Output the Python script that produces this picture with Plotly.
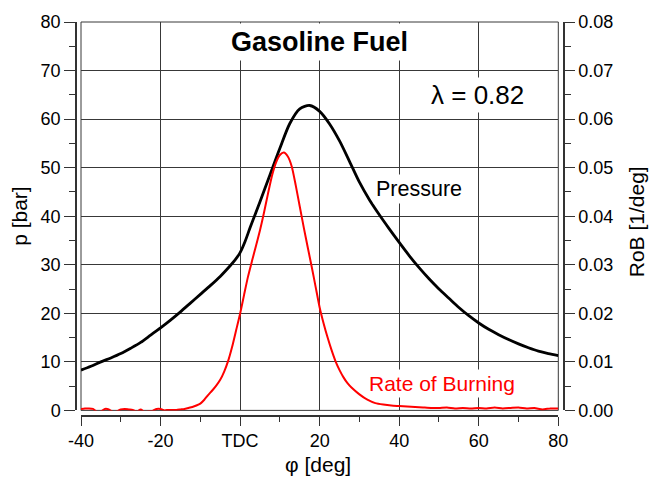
import plotly.graph_objects as go

# Crank angle [deg] and cylinder pressure [bar]
pressure_angle = [-40, -37.5, -35, -32.5, -30, -27.5, -25, -22.5, -20, -17.5, -15, -12.5,
                  -10, -7.5, -5, -2.5, -1.25, 0, 1.25, 2.5, 5, 7.5, 10, 12.5, 15, 17.5, 20,
                  22.5, 25, 27.5, 30, 32.5, 35, 37.5, 40, 42.5, 45, 47.5, 50, 52.5, 55,
                  57.5, 60, 62.5, 65, 67.5, 70, 72.5, 75, 77.5, 80]
pressure_bar = [8.3, 9.1, 10.0, 10.8, 11.7, 12.8, 14.0, 15.5, 17.0, 18.6, 20.3, 22.1,
                23.9, 25.7, 27.6, 29.8, 31.0, 32.5, 34.8, 37.6, 43.0, 48.5, 54.0, 59.1,
                62.1, 62.8, 61.6, 59.0, 55.5, 51.3, 47.0, 43.4, 40.3, 37.4, 34.6, 31.9,
                29.4, 27.1, 25.0, 23.1, 21.2, 19.5, 18.0, 16.7, 15.6, 14.6, 13.7, 12.9,
                12.2, 11.7, 11.3]

# Crank angle [deg] and rate of burning [1/deg]
rob_angle = [-40, -39, -38, -37, -36, -35, -34, -33, -32, -31, -30, -29, -28, -27, -26,
             -25, -24, -23, -22, -21, -20, -19, -18, -17, -16, -15, -14, -13, -12, -11,
             -10, -9, -8, -7, -6, -5, -4, -3, -2, -1, 0, 1, 2, 3, 4, 5, 6, 7, 8, 9, 10,
             11, 12, 13, 14, 15, 16, 17, 18, 19, 20, 21, 22, 23, 24, 25, 26, 27, 28, 30,
             32, 34, 36, 38, 40, 42, 44, 46, 48, 50, 52, 54, 56, 58, 60, 62, 64, 66, 68,
             70, 72, 74, 76, 78, 80]
rob_per_deg = [0.0003, 0.0004, 0.0004, 0.0003, -0.0003, -0.0002, 0.0003, 0.0002, -0.0003,
               -0.0002, 0.0002, 0.0003, 0.0002, 0.0001, -0.0003, 0.0002, -0.0003, -0.0002,
               -0.0001, 0.0003, 0.0003, 0.0000, 0.0001, 0.0001, 0.0001, 0.0002, 0.0003,
               0.0005, 0.0007, 0.0010, 0.0014, 0.0022, 0.0032, 0.0041, 0.0051, 0.0063,
               0.0080, 0.0102, 0.0131, 0.0165, 0.0199, 0.0238, 0.0276, 0.0308, 0.0339,
               0.0371, 0.0407, 0.0446, 0.0483, 0.0510, 0.0526, 0.0531, 0.0523, 0.0502,
               0.0463, 0.0420, 0.0377, 0.0336, 0.0296, 0.0254, 0.0212, 0.0179, 0.0150,
               0.0124, 0.0101, 0.0083, 0.0068, 0.0056, 0.0047, 0.0033, 0.0022, 0.0015,
               0.0012, 0.0010, 0.0009, 0.0008, 0.0007, 0.0006, 0.0005, 0.0005, 0.0006,
               0.0004, 0.0005, 0.0004, 0.0005, 0.0004, 0.0006, 0.0004, 0.0005, 0.0006,
               0.0004, 0.0005, 0.0002, 0.0004, 0.0004]

x_tickvals = [-40, -20, 0, 20, 40, 60, 80]
x_ticktext = ["-40", "-20", "TDC", "20", "40", "60", "80"]
p_tickvals = [0, 10, 20, 30, 40, 50, 60, 70, 80]
rob_tickvals = [0.00, 0.01, 0.02, 0.03, 0.04, 0.05, 0.06, 0.07, 0.08]

FONT = "Arial, Liberation Sans, sans-serif"
AXIS = "#333333"
GRID = "#383838"

fig = go.Figure()
fig.add_trace(go.Scatter(x=pressure_angle, y=pressure_bar, mode="lines",
                         line=dict(color="black", width=2.8, shape="spline", smoothing=0.8),
                         name="Pressure", yaxis="y"))
fig.add_trace(go.Scatter(x=rob_angle, y=rob_per_deg, mode="lines",
                         line=dict(color="#ff0000", width=2, shape="spline", smoothing=0.6),
                         name="Rate of Burning", yaxis="y2"))

xdom = [(81 - 76) / 488, (558.3 - 76) / 488]
ydom = [(415.7 - 410) / 400, 1]

fig.update_layout(
    width=649, height=480,
    margin=dict(l=76, r=85, t=15.7, b=64.3, pad=0),
    paper_bgcolor="white", plot_bgcolor="white",
    showlegend=False,
    font=dict(family=FONT, size=18, color="black"),
    xaxis=dict(
        domain=xdom, range=[-40, 80], anchor="free", position=0,
        tickmode="array", tickvals=x_tickvals, ticktext=x_ticktext,
        ticks="outside", ticklen=9, tickwidth=1.3, tickcolor=AXIS,
        showline=True, linecolor=AXIS, linewidth=1.5,
        showgrid=True, gridcolor=GRID, gridwidth=1,
        zeroline=False,
        minor=dict(tickmode="array", tickvals=[-30, -10, 10, 30, 50, 70],
                   ticks="outside", ticklen=5, tickwidth=1.3, tickcolor=AXIS, showgrid=False),
        tickfont=dict(size=18),
    ),
    yaxis=dict(
        domain=ydom, range=[0, 80], anchor="free", position=0,
        tickmode="array", tickvals=p_tickvals,
        ticks="outside", ticklen=11, tickwidth=1.3, tickcolor=AXIS,
        showline=True, linecolor=AXIS, linewidth=1.5,
        showgrid=True, gridcolor=GRID, gridwidth=1,
        zeroline=False,
        minor=dict(tickmode="array", tickvals=[5, 15, 25, 35, 45, 55, 65, 75],
                   ticks="outside", ticklen=6, tickwidth=1.3, tickcolor=AXIS, showgrid=False),
        tickfont=dict(size=18),
    ),
    yaxis2=dict(
        range=[0, 0.08], overlaying="y", side="right", anchor="free", position=1,
        tickmode="array", tickvals=rob_tickvals, tickformat=".2f",
        ticks="outside", ticklen=10, tickwidth=1.3, tickcolor=AXIS,
        showline=True, linecolor=AXIS, linewidth=1.5,
        showgrid=False, zeroline=False,
        minor=dict(tickmode="array",
                   tickvals=[0.005, 0.015, 0.025, 0.035, 0.045, 0.055, 0.065, 0.075],
                   ticks="outside", ticklen=6, tickwidth=1.3, tickcolor=AXIS, showgrid=False),
        tickfont=dict(size=18),
    ),
)

# frame around the plotting area
fig.add_shape(type="rect", xref="x domain", yref="y domain", x0=0, x1=1, y0=0, y1=1,
              line=dict(color=GRID, width=1), layer="below")

# axis titles
fig.add_annotation(text="φ [deg]", xref="paper", yref="paper", x=(318 - 76) / 488,
                   y=(415.7 - 465) / 400, showarrow=False, font=dict(size=21),
                   xanchor="center", yanchor="middle")
fig.add_annotation(text="p [bar]", xref="paper", yref="paper", x=(20 - 76) / 488,
                   y=(415.7 - 212.5) / 400, showarrow=False, font=dict(size=21),
                   textangle=-90, xanchor="center", yanchor="middle")
fig.add_annotation(text="RoB [1/deg]", xref="paper", yref="paper", x=(636 - 76) / 488,
                   y=(415.7 - 219) / 400, showarrow=False, font=dict(size=21),
                   textangle=-90, xanchor="center", yanchor="middle")

# in-plot labels on white boxes
fig.add_annotation(text="<b>Gasoline Fuel</b>", x=20, y=75.8, xref="x", yref="y",
                   showarrow=False, font=dict(size=27), bgcolor="white", borderpad=3)
fig.add_annotation(text="λ = 0.82", x=59.8, y=65.0, xref="x", yref="y",
                   showarrow=False, font=dict(size=26), bgcolor="white", borderpad=2)
fig.add_annotation(text="Pressure", x=45.0, y=45.6, xref="x", yref="y",
                   showarrow=False, font=dict(size=21.5), bgcolor="white", borderpad=2)
fig.add_annotation(text="Rate of Burning", x=50.7, y=5.5, xref="x", yref="y",
                   showarrow=False, font=dict(size=21, color="#ff0000"), bgcolor="white",
                   borderpad=2)

fig.write_html("out.html")
